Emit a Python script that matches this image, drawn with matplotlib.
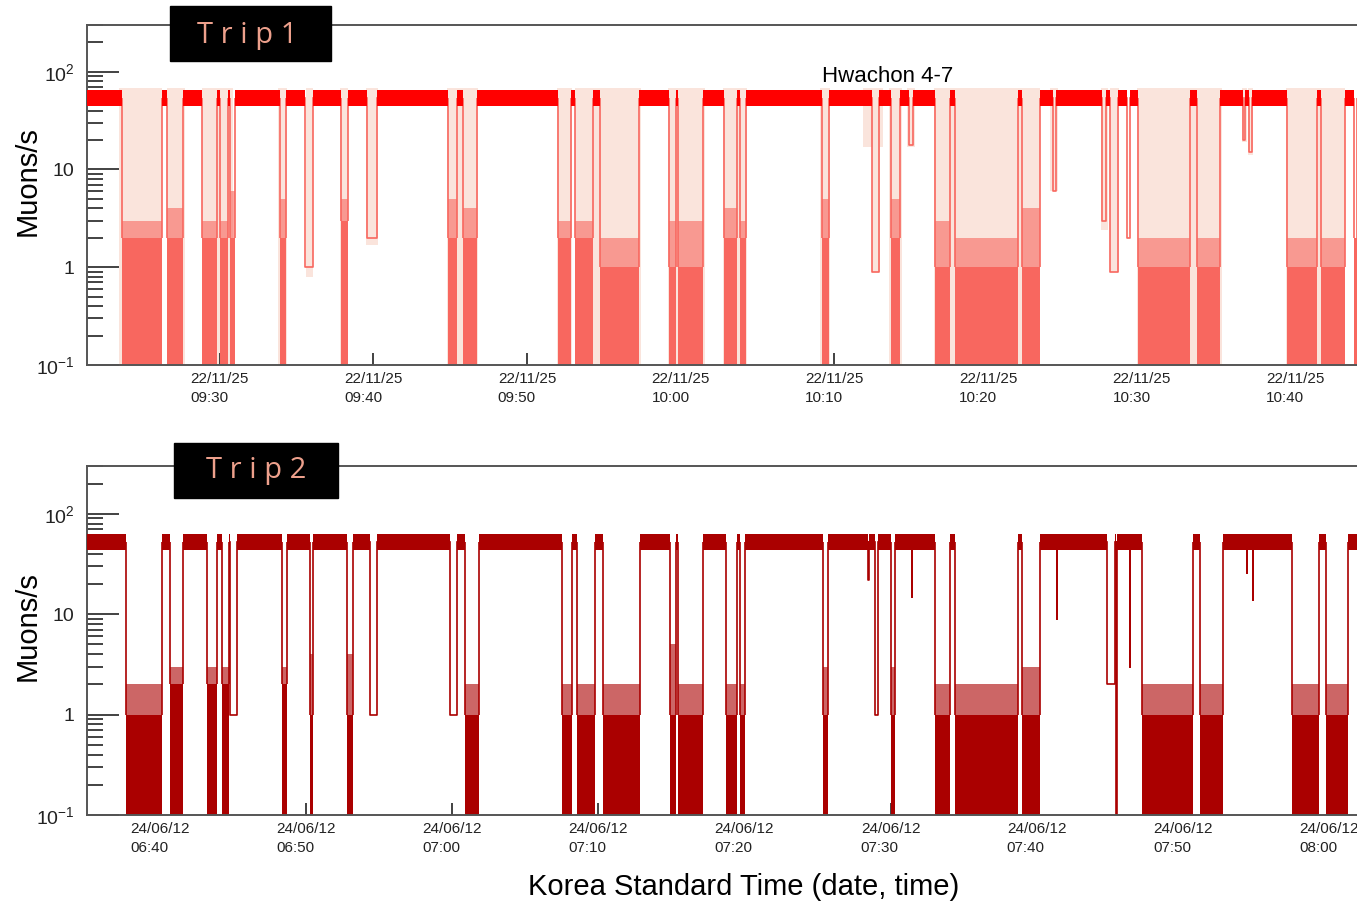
import matplotlib
matplotlib.use("Agg")
import matplotlib.pyplot as plt
from matplotlib.patches import Rectangle
from matplotlib.ticker import LogLocator, NullFormatter

plt.rcParams['font.family'] = ['Liberation Sans', 'DejaVu Sans']
plt.rcParams['mathtext.fontset'] = 'custom'
plt.rcParams['mathtext.rm'] = 'Liberation Sans'
plt.rcParams['mathtext.it'] = 'Liberation Sans:italic'

# ---- Trip 1 (22/11/25), time in minutes after 09:00 ----
trip1_xlim = (21.37, 104.0)
trip1_rate = (45, 65)          # band of the surface rate, muons/s
# tunnels: start, end, dense level, spike level
trip1_tunnels = [
    (23.62, 26.25, 2, 3), (26.58, 27.62, 2, 4), (28.86, 29.83, 2, 3),
    (30.03, 30.55, 2, 3), (30.68, 31.02, 2, 6), (33.93, 34.32, 2, 5),
    (37.90, 38.32, 3, 5), (44.86, 45.45, 2, 5), (45.84, 46.75, 2, 4),
    (52.02, 52.86, 2, 3), (53.12, 54.29, 2, 3), (54.75, 57.29, 1, 2),
    (59.24, 59.72, 1, 3), (59.80, 61.45, 1, 3), (62.82, 63.66, 2, 4),
    (63.86, 64.25, 2, 3), (69.19, 69.65, 2, 5), (73.68, 74.27, 2, 5),
    (76.54, 77.52, 1, 3), (77.85, 81.94, 1, 2), (82.21, 83.38, 1, 4),
    (89.75, 93.13, 1, 2), (93.59, 95.08, 1, 2), (99.45, 101.40, 1, 2),
    (101.66, 103.23, 1, 2), (103.80, 104.0, 2, 2),
]
# short dips that do not reach zero: start, end, minimum
trip1_dips = [
    (35.56, 36.08, 1.0), (39.59, 40.24, 2.0), (72.45, 72.90, 0.9),
    (74.85, 75.11, 18), (84.22, 84.42, 6), (87.41, 87.67, 3),
    (87.93, 88.45, 0.9), (89.04, 89.23, 2), (96.58, 96.71, 20),
    (96.97, 97.17, 15),
]
# pale envelope: start, end, bottom (top at 68)
trip1_envelope = [
    (23.46, 26.25, 0.1), (26.58, 27.75, 0.1), (28.86, 30.87, 0.1),
    (33.80, 34.39, 0.1), (35.62, 36.08, 0.8), (37.83, 38.35, 0.1),
    (39.53, 40.30, 1.7), (44.80, 46.81, 0.1), (51.95, 52.93, 0.1),
    (53.12, 57.41, 0.1), (59.17, 61.58, 0.1), (62.75, 64.31, 0.1),
    (69.06, 69.71, 0.1), (71.86, 73.16, 17), (72.45, 72.97, 0.9),
    (73.55, 74.40, 0.1), (74.72, 75.24, 17), (76.50, 83.40, 0.1),
    (84.03, 84.55, 6), (87.35, 87.80, 2.4), (87.93, 88.51, 0.9),
    (89.69, 95.22, 0.1), (96.52, 96.84, 19), (96.91, 97.24, 14),
    (99.38, 103.23, 0.1),
]
trip1_envelope_top = 68
trip1_ticks = [30, 40, 50, 60, 70, 80, 90, 100]
trip1_ticklabels = ["22/11/25\n09:30", "22/11/25\n09:40", "22/11/25\n09:50",
                    "22/11/25\n10:00", "22/11/25\n10:10", "22/11/25\n10:20",
                    "22/11/25\n10:30", "22/11/25\n10:40"]

# ---- Trip 2 (24/06/12), time in minutes after 06:00 ----
trip2_xlim = (35.0, 121.93)
trip2_rate = (44, 63)
trip2_tunnels = [
    (37.67, 40.14, 1, 2), (40.68, 41.57, 2, 3), (43.22, 43.90, 2, 3),
    (44.24, 44.72, 2, 3), (48.35, 48.71, 2, 3), (50.27, 50.47, 1, 4),
    (52.80, 53.23, 1, 4), (60.88, 61.85, 1, 2), (67.52, 68.20, 1, 2),
    (68.54, 69.77, 1, 2), (70.32, 72.85, 1, 2), (74.91, 75.32, 1, 5),
    (75.46, 77.19, 1, 2), (78.74, 79.49, 1, 2), (79.70, 80.04, 1, 2),
    (85.38, 85.72, 1, 3), (90.03, 90.31, 1, 3), (93.05, 94.07, 1, 2),
    (94.42, 98.73, 1, 2), (99.00, 100.23, 1, 3), (107.21, 110.71, 1, 2),
    (111.18, 112.76, 1, 2), (117.48, 119.33, 1, 2), (119.81, 121.31, 1, 2),
]
trip2_dips = [
    (44.79, 45.29, 1), (54.37, 54.85, 1), (59.85, 60.33, 1),
    (88.46, 88.52, 22), (88.94, 89.14, 1), (91.45, 91.50, 15),
    (101.37, 101.42, 9), (104.82, 105.35, 2), (105.42, 105.52, 0.1),
    (106.36, 106.42, 3), (114.37, 114.42, 26), (114.78, 114.84, 14),
]
trip2_ticks = [40, 50, 60, 70, 80, 90, 100, 110, 120]
trip2_ticklabels = ["24/06/12\n06:40", "24/06/12\n06:50", "24/06/12\n07:00",
                    "24/06/12\n07:10", "24/06/12\n07:20", "24/06/12\n07:30",
                    "24/06/12\n07:40", "24/06/12\n07:50", "24/06/12\n08:00"]


def gaps(lo, hi, spans):
    out, cur = [], lo
    for s, e in sorted(spans):
        if s > cur:
            out.append((cur, s))
        cur = max(cur, e)
    if cur < hi:
        out.append((cur, hi))
    return out


def draw_trip(ax, xlim, rate, tunnels, dips, surf_color, low_color):
    mid = (rate[0] * rate[1]) ** 0.5
    spans = [(t[0], t[1]) for t in tunnels] + [(d[0], d[1]) for d in dips]
    for s, e in gaps(xlim[0], xlim[1], spans):
        ax.fill_between([s, e], rate[0], rate[1], color=surf_color, lw=0, zorder=3)
    for s, e, lo, hi in tunnels:
        ax.fill_between([s, e], 0.1, lo, color=low_color, lw=0, zorder=2)
        ax.fill_between([s, e], lo, hi, color=low_color, alpha=0.6, lw=0, zorder=2)
        ax.vlines([s, e], lo, mid, color=low_color, lw=1.2, zorder=2)
    for s, e, m in dips:
        ax.plot([s, s, e, e], [mid, m, m, mid], color=low_color, lw=1.2, zorder=2)


def style_axes(ax, xlim, ticks, ticklabels):
    ax.set_yscale('log')
    ax.set_xlim(*xlim)
    ax.set_ylim(0.1, 300)
    ax.set_xticks(ticks, ticklabels, fontsize=11, linespacing=1.45,
                  multialignment='left')
    ax.set_yticks([0.1, 1, 10, 100], [r'$10^{-1}$', '1', '10', r'$10^{2}$'],
                  fontsize=14)
    ax.yaxis.set_minor_locator(LogLocator(subs=range(2, 10)))
    ax.yaxis.set_minor_formatter(NullFormatter())
    ax.tick_params(axis='x', direction='in', length=9, width=1.2, pad=5,
                   top=False, colors='#222222')
    ax.tick_params(axis='y', which='major', direction='in', length=23,
                   width=1.2, pad=9, colors='#222222')
    ax.tick_params(axis='y', which='minor', direction='in', length=11.5,
                   width=1.2, colors='#222222')
    for side in ['left', 'bottom', 'top']:
        ax.spines[side].set_color('#555555')
        ax.spines[side].set_linewidth(1.4)
    ax.spines['right'].set_visible(False)
    ax.set_ylabel('Muons/s', fontsize=21)
    ax.yaxis.set_label_coords(-0.036, 0.54)


fig = plt.figure(figsize=(13.57, 9.02), dpi=100)
ax1 = fig.add_axes([0.0641, 0.5953, 0.9359, 0.3769])
ax2 = fig.add_axes([0.0641, 0.0965, 0.9359, 0.3869])

for s, e, b in trip1_envelope:
    ax1.fill_between([s, e], b, trip1_envelope_top, color='#fae4dc', lw=0, zorder=1)
draw_trip(ax1, trip1_xlim, trip1_rate, trip1_tunnels, trip1_dips,
          '#ff0000', '#f8675f')
draw_trip(ax2, trip2_xlim, trip2_rate, trip2_tunnels, trip2_dips,
          '#aa0000', '#aa0000')

style_axes(ax1, trip1_xlim, trip1_ticks, trip1_ticklabels)
style_axes(ax2, trip2_xlim, trip2_ticks, trip2_ticklabels)

ax1.text(69.19, 89, 'Hwachon 4-7', fontsize=16, ha='left', va='center', zorder=5)
ax2.set_xlabel('Korea Standard Time (date, time)', fontsize=21)
ax2.xaxis.set_label_coords(0.517, -0.165)

# trip labels in black boxes
fig.add_artist(Rectangle((0.1253, 0.9324), 0.1186, 0.061, transform=fig.transFigure,
                         color='black', zorder=10))
fig.text(0.1824, 0.9523, 'T r i p 1', fontsize=21, family='Open Sans',
         color='#eda08c', ha='center', va='baseline', zorder=11)
fig.add_artist(Rectangle((0.1282, 0.4479), 0.1209, 0.061, transform=fig.transFigure,
                         color='black', zorder=10))
fig.text(0.1887, 0.47, 'T r i p 2', fontsize=21, family='Open Sans',
         color='#eda08c', ha='center', va='baseline', zorder=11)

fig.savefig('out.png', dpi=100)
